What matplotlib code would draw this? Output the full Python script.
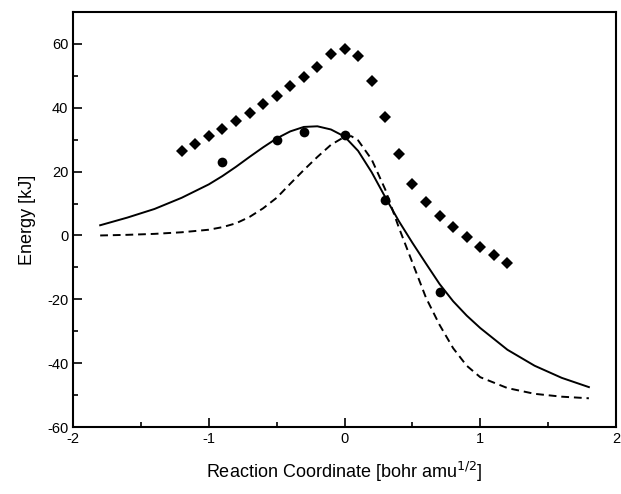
import matplotlib
matplotlib.use("Agg")
import matplotlib.pyplot as plt
from matplotlib.ticker import MultipleLocator

plt.rcParams['font.family'] = ['Liberation Sans', 'DejaVu Sans']
plt.rcParams['axes.unicode_minus'] = False

# diamonds
x_dia = [-1.2, -1.1, -1.0, -0.9, -0.8, -0.7, -0.6, -0.5, -0.4, -0.3, -0.2, -0.1, 0.0,
         0.1, 0.2, 0.3, 0.4, 0.5, 0.6, 0.7, 0.8, 0.9, 1.0, 1.1, 1.2]
y_dia = [26.6, 28.8, 31.1, 33.4, 36.0, 38.4, 41.1, 43.8, 46.7, 49.6, 52.9, 56.9, 58.3,
         56.2, 48.4, 37.1, 25.4, 16.2, 10.4, 6.2, 2.6, -0.5, -3.5, -6.2, -8.7]

# circles
x_dot = [-0.9, -0.5, -0.3, 0.0, 0.3, 0.7]
y_dot = [23.0, 29.8, 32.4, 31.4, 11.0, -17.8]

# solid curve
x_sol = [-1.8, -1.6, -1.4, -1.2, -1.0, -0.9, -0.8, -0.7, -0.6, -0.5, -0.4, -0.3, -0.2, -0.1,
         0.0, 0.1, 0.2, 0.3, 0.4, 0.5, 0.6, 0.7, 0.8, 0.9, 1.0, 1.2, 1.4, 1.6, 1.8]
y_sol = [3.2, 5.6, 8.3, 11.8, 16.0, 18.6, 21.5, 24.6, 27.6, 30.4, 32.6, 34.0, 34.2, 33.2,
         31.0, 26.5, 19.8, 12.0, 4.5, -2.3, -8.8, -15.2, -20.6, -25.1, -29.0, -35.8, -40.8, -44.6, -47.5]

# dashed curve
x_das = [-1.8, -1.6, -1.4, -1.2, -1.0, -0.9, -0.8, -0.7, -0.6, -0.5, -0.4, -0.3, -0.2, -0.1,
         0.0, 0.05, 0.1, 0.2, 0.3, 0.4, 0.5, 0.6, 0.7, 0.8, 0.9, 1.0, 1.2, 1.4, 1.6, 1.8]
y_das = [0.0, 0.2, 0.5, 1.0, 1.8, 2.6, 3.8, 5.8, 8.5, 11.8, 16.2, 20.5, 24.6, 28.4,
         30.9, 31.1, 29.8, 23.8, 14.4, 2.5, -8.5, -19.5, -28.0, -35.3, -40.8, -44.4, -47.8, -49.6, -50.5, -51.0]

fig = plt.figure(figsize=(6.21, 4.94), dpi=100)
ax = fig.add_axes([0.1176, 0.1356, 0.8744, 0.8401])

ax.plot(x_sol, y_sol, 'k-', lw=1.4)
ax.plot(x_das, y_das, 'k--', lw=1.4, dashes=(4, 2.5))
ax.plot(x_dia, y_dia, 'kD', ms=6.5, mew=0)
ax.plot(x_dot, y_dot, 'ko', ms=7, mew=0)

ax.set_xlim(-2, 2)
ax.set_ylim(-60, 70)
ax.xaxis.set_major_locator(MultipleLocator(1))
ax.xaxis.set_minor_locator(MultipleLocator(0.5))
ax.yaxis.set_major_locator(MultipleLocator(20))
ax.yaxis.set_minor_locator(MultipleLocator(10))
ax.tick_params(which='both', direction='in', labelsize=10.5, width=1.2)
ax.tick_params(which='major', length=6.5)
ax.tick_params(which='minor', length=3.5)
for s in ax.spines.values():
    s.set_linewidth(1.5)

ax.set_xlabel('Reaction Coordinate [bohr amu$^{1/2}$]', fontsize=13, labelpad=10)
ax.set_ylabel('Energy [kJ]', fontsize=13, labelpad=8)

fig.savefig('out.png', dpi=100)
